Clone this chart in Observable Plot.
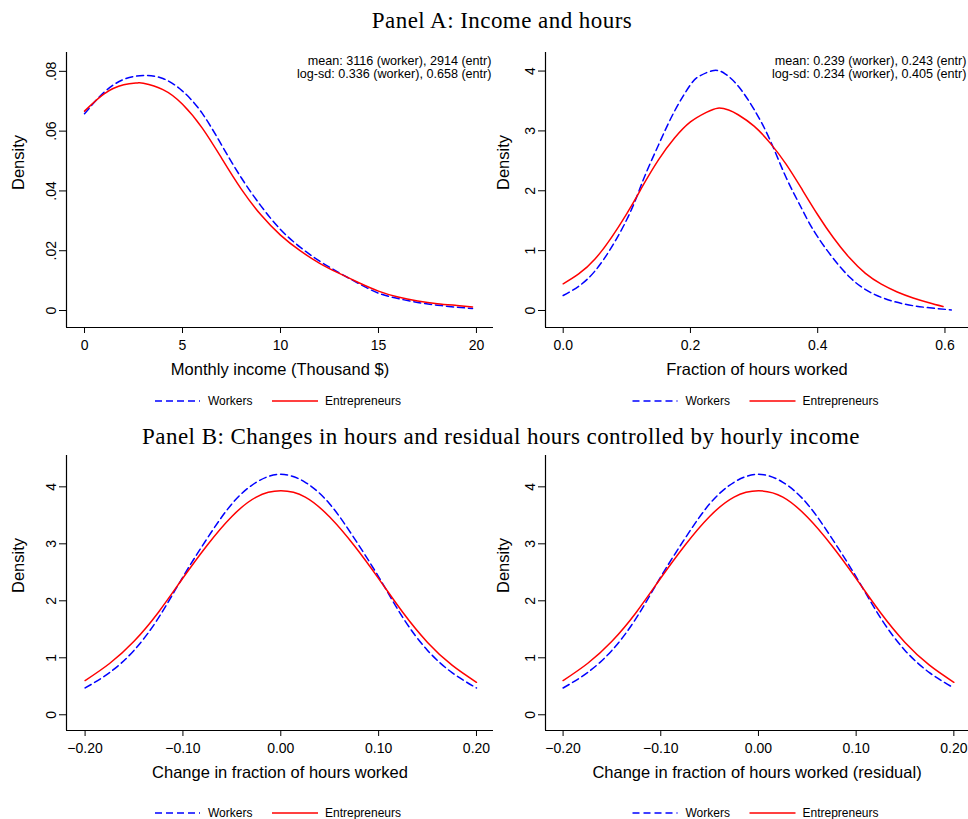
<!DOCTYPE html>
<html><head><meta charset="utf-8">
<script src="https://cdn.jsdelivr.net/npm/d3@7"></script>
<script src="https://cdn.jsdelivr.net/npm/@observablehq/plot@0.6"></script>
<style>
body{margin:0;background:#fff;}
#root{position:relative;width:968px;height:819px;overflow:hidden;font-family:"Liberation Sans",Arial,sans-serif;}
.panel{position:absolute;}
#overlay{position:absolute;left:0;top:0;}
</style></head><body><div id="root"></div>
<script>
// ---- data ----
const titleA = "Panel A: Income and hours";
const titleB = "Panel B: Changes in hours and residual hours controlled by hourly income";
const seriesNames = ["Workers", "Entrepreneurs"];

const incomeX = [0,1,2,3,4,5,6,7,8,9,10,11,12,13,14,15,16,17,18,19,19.8];
const incomeWorkers = [0.0658,0.0730,0.0773,0.0786,0.0776,0.0734,0.0660,0.0553,0.0444,0.0350,0.0271,0.0212,0.0165,0.0126,0.0090,0.0058,0.0040,0.0027,0.0018,0.0011,0.0007];
const incomeXEntr = [0,1,2,2.7,3,4,5,6,7,8,9,10,11,12,13,14,15,16,17,18,19,19.8];
const incomeEntr = [0.0667,0.0725,0.0755,0.0761,0.0760,0.0739,0.0690,0.0611,0.0509,0.0406,0.0320,0.0252,0.0200,0.0158,0.0124,0.0093,0.0065,0.0045,0.0032,0.0023,0.0017,0.0012];

const hoursXWorkers = [0,0.05,0.1,0.125,0.15,0.175,0.2,0.215,0.237,0.255,0.275,0.3,0.325,0.35,0.375,0.4,0.45,0.5,0.55,0.61];
const hoursWorkers = [0.25,0.66,1.52,2.16,2.77,3.33,3.77,3.92,4.01,3.95,3.75,3.36,2.85,2.23,1.70,1.23,0.56,0.22,0.08,0.01];
const hoursXEntr = [0,0.05,0.1,0.125,0.15,0.175,0.2,0.225,0.243,0.26,0.275,0.3,0.325,0.35,0.375,0.4,0.425,0.45,0.475,0.5,0.525,0.55,0.575,0.597];
const hoursEntr = [0.446,0.86,1.62,2.08,2.52,2.88,3.15,3.31,3.38,3.35,3.27,3.08,2.80,2.45,2.03,1.60,1.21,0.88,0.62,0.44,0.31,0.21,0.13,0.067];

const changeX = [-0.2,-0.175,-0.15,-0.125,-0.1,-0.075,-0.05,-0.025,0,0.025,0.05,0.075,0.1,0.125,0.15,0.175,0.2];
const changeWorkers = [0.47,0.74,1.13,1.70,2.42,3.10,3.70,4.08,4.22,4.08,3.70,3.10,2.42,1.70,1.13,0.74,0.47];
const changeEntr = [0.60,0.90,1.29,1.80,2.40,2.98,3.48,3.82,3.93,3.82,3.47,2.97,2.39,1.79,1.27,0.87,0.57];

const residX = [-0.2,-0.175,-0.15,-0.125,-0.1,-0.075,-0.05,-0.025,0,0.025,0.05,0.075,0.1,0.125,0.15,0.175,0.2];
const residWorkers = [0.47,0.74,1.13,1.70,2.42,3.10,3.70,4.08,4.22,4.08,3.70,3.10,2.42,1.70,1.13,0.74,0.47];
const residEntr = [0.60,0.90,1.29,1.80,2.40,2.98,3.48,3.82,3.93,3.82,3.47,2.97,2.39,1.79,1.27,0.87,0.57];

const incomeTicksX = [0,5,10,15,20];
const incomeTicksY = [0,0.02,0.04,0.06,0.08];
const hoursTicksX = [0,0.2,0.4,0.6];
const densTicksY = [0,1,2,3,4];
const changeTicksX = [-0.2,-0.1,0,0.1,0.2];

const noteIncome = ["mean: 3116 (worker), 2914 (entr)", "log-sd: 0.336 (worker), 0.658 (entr)"];
const noteHours = ["mean: 0.239 (worker), 0.243 (entr)", "log-sd: 0.234 (worker), 0.405 (entr)"];

const labels = ["Monthly income (Thousand $)", "Fraction of hours worked", "Change in fraction of hours worked", "Change in fraction of hours worked (residual)"];

// ---- helpers ----
const zip = (xs, ys) => xs.map((x, i) => ({x, y: ys[i]}));
const root = document.getElementById("root");
const FONT = "'Liberation Sans', Arial, Helvetica, sans-serif";

function panel(c) {
  const noteMarks = c.note ? c.note.map((line, i) =>
    Plot.text([line], {frameAnchor: "top-right", textAnchor: "end", lineAnchor: "middle", dx: -2, dy: 8 + 13 * i, fontSize: 12.6, fill: "#000"})) : [];
  const p = Plot.plot({
    width: c.width, height: c.height,
    marginLeft: c.mL, marginTop: c.mT, marginRight: c.mR, marginBottom: c.mB,
    style: {fontFamily: FONT, fontSize: "14px", color: "#000", background: "transparent", overflow: "visible"},
    x: {domain: c.xDomain},
    y: {domain: c.yDomain},
    marks: [
      Plot.axisX({ticks: c.xTicks, tickFormat: c.xFmt, tickSize: 6, tickPadding: 7, label: null, fontSize: 14}),
      Plot.axisY({ticks: c.yTicks, tickFormat: c.yFmt, tickSize: 7, tickRotate: -90, tickPadding: 4, label: null, fontSize: 14}),
      Plot.ruleX([c.xDomain[0]], {stroke: "#000", strokeWidth: 1.2}),
      Plot.ruleY([c.yDomain[0]], {stroke: "#000", strokeWidth: 1.2}),
      Plot.line(c.workers, {x: "x", y: "y", stroke: "#0000ff", strokeWidth: 1.5, strokeDasharray: "7,4", curve: "natural"}),
      Plot.line(c.entr, {x: "x", y: "y", stroke: "#ff0000", strokeWidth: 1.5, curve: "natural"}),
      Plot.text([c.xLabel], {frameAnchor: "bottom", dy: 47, fontSize: 16.5, fill: "#000"}),
      Plot.text(["Density"], {frameAnchor: "left", dx: -c.yLabOff, rotate: -90, fontSize: 16.5, fill: "#000"}),
      ...noteMarks
    ]
  });
  const d = document.createElement("div");
  d.className = "panel";
  d.style.left = c.left + "px";
  d.style.top = c.top + "px";
  d.appendChild(p);
  root.appendChild(d);
}

const fmtIncY = d => d === 0 ? "0" : d3.format(".2f")(d).replace(/^0/, "");

panel({left: 0, top: 40, width: 500, height: 350, mL: 66, mT: 12, mR: 7, mB: 63,
  xDomain: [-0.92, 20.87], yDomain: [-0.00568, 0.0863],
  xTicks: incomeTicksX, xFmt: d3.format("d"), yTicks: incomeTicksY, yFmt: fmtIncY,
  workers: zip(incomeX, incomeWorkers), entr: zip(incomeXEntr, incomeEntr),
  xLabel: labels[0], yLabOff: 48, note: noteIncome});

panel({left: 480, top: 40, width: 488, height: 350, mL: 65, mT: 12, mR: 0, mB: 63,
  xDomain: [-0.0278, 0.637], yDomain: [-0.284, 4.31],
  xTicks: hoursTicksX, xFmt: d3.format(".1f"), yTicks: densTicksY, yFmt: d3.format("d"),
  workers: zip(hoursXWorkers, hoursWorkers), entr: zip(hoursXEntr, hoursEntr),
  xLabel: labels[1], yLabOff: 42, note: noteHours});

panel({left: 0, top: 445, width: 500, height: 350, mL: 66, mT: 10, mR: 7, mB: 65,
  xDomain: [-0.219, 0.2174], yDomain: [-0.276, 4.55],
  xTicks: changeTicksX, xFmt: d3.format(".2f"), yTicks: densTicksY, yFmt: d3.format("d"),
  workers: zip(changeX, changeWorkers), entr: zip(changeX, changeEntr),
  xLabel: labels[2], yLabOff: 48, note: null});

panel({left: 480, top: 445, width: 488, height: 350, mL: 65, mT: 10, mR: 0, mB: 65,
  xDomain: [-0.218, 0.215], yDomain: [-0.276, 4.55],
  xTicks: changeTicksX, xFmt: d3.format(".2f"), yTicks: densTicksY, yFmt: d3.format("d"),
  workers: zip(residX, residWorkers), entr: zip(residX, residEntr),
  xLabel: labels[3], yLabOff: 42, note: null});

// ---- titles and legends overlay ----
const ns = "http://www.w3.org/2000/svg";
const ov = document.createElementNS(ns, "svg");
ov.setAttribute("id", "overlay");
ov.setAttribute("width", 968); ov.setAttribute("height", 819);
root.appendChild(ov);
function addText(txt, x, y, attrs) {
  const t = document.createElementNS(ns, "text");
  t.textContent = txt;
  t.setAttribute("x", x); t.setAttribute("y", y);
  for (const k in attrs) t.setAttribute(k, attrs[k]);
  ov.appendChild(t);
}
function addLine(x1, x2, y, attrs) {
  const l = document.createElementNS(ns, "line");
  l.setAttribute("x1", x1); l.setAttribute("x2", x2);
  l.setAttribute("y1", y); l.setAttribute("y2", y);
  for (const k in attrs) l.setAttribute(k, attrs[k]);
  ov.appendChild(l);
}
const titleStyle = {"font-family": "'Liberation Serif', 'Times New Roman', serif", "font-size": 23, "text-anchor": "middle", "letter-spacing": "0.45", fill: "#000"};
addText(titleA, 502, 28, titleStyle);
addText(titleB, 501, 444, titleStyle);

function legend(cx, y) {
  addLine(cx - 124, cx - 79, y, {stroke: "#0000ff", "stroke-width": 1.6, "stroke-dasharray": "7,4"});
  addText(seriesNames[0], cx - 71, y + 4.3, {"font-family": FONT, "font-size": 12, fill: "#000"});
  addLine(cx - 7, cx + 39, y, {stroke: "#ff0000", "stroke-width": 1.6});
  addText(seriesNames[1], cx + 46, y + 4.3, {"font-family": FONT, "font-size": 12, fill: "#000"});
}
legend(279, 401);
legend(756.5, 401);
legend(279, 813);
legend(756.5, 813);
</script>
</body></html>
